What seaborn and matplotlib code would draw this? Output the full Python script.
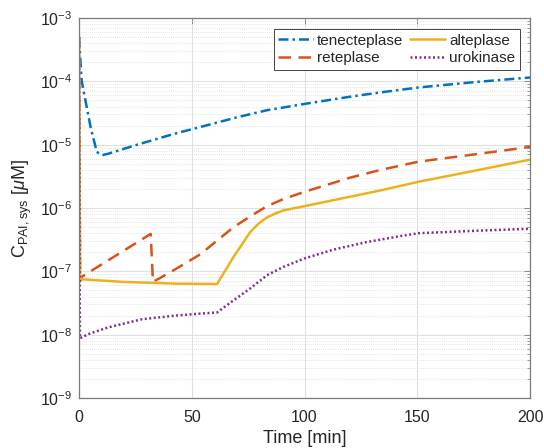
import numpy as np
import pandas as pd
import matplotlib
matplotlib.use("Agg")
import matplotlib.pyplot as plt
import seaborn as sns
from matplotlib.ticker import LogLocator, NullFormatter, MultipleLocator

# ---- data ----
t_tenecteplase = [0, 1.2, 3, 5.2, 7.9, 9.5, 10.8, 13, 25, 42.7, 53.8, 70, 83.4, 100, 120, 133.8,
                  150.7, 175, 200]
c_tenecteplase = [5e-4, 1.0e-4, 4.7e-5, 1.85e-5, 7.7e-6, 7.0e-6, 6.9e-6, 7.2e-6, 9.8e-6, 1.5e-5,
                  1.9e-5, 2.7e-5, 3.5e-5, 4.4e-5, 5.7e-5, 6.7e-5, 8.0e-5, 9.7e-5, 1.15e-4]

t_reteplase = [0, 0.5, 1.2, 31.8, 32.8, 41.2, 53.8, 68.6, 76, 83.4, 91, 100, 120, 133.8, 150.7,
               175, 200]
c_reteplase = [5e-4, 7e-8, 8.2e-8, 3.9e-7, 6.8e-8, 1.0e-7, 1.86e-7, 5.0e-7, 7.4e-7, 1.07e-6,
               1.4e-6, 1.8e-6, 3.0e-6, 4.0e-6, 5.4e-6, 7.0e-6, 9.2e-6]

t_alteplase = [0, 0.5, 1, 20, 42.7, 61.2, 68.6, 76, 79.7, 83.4, 87.1, 90.8, 100, 120, 133.8,
               150.7, 175, 200]
c_alteplase = [5e-4, 8e-8, 7.5e-8, 6.8e-8, 6.4e-8, 6.3e-8, 1.7e-7, 4.2e-7, 5.7e-7, 7.1e-7,
               8.2e-7, 9.2e-7, 1.07e-6, 1.5e-6, 1.9e-6, 2.6e-6, 3.85e-6, 5.8e-6]

t_urokinase = [0, 0.4, 5, 12.9, 27.8, 42.7, 53.8, 61.2, 68.6, 76, 83.4, 90.8, 100, 112.8, 127.6,
               142.5, 150.7, 178, 200]
c_urokinase = [5e-4, 8.8e-9, 1.05e-8, 1.3e-8, 1.75e-8, 2.0e-8, 2.15e-8, 2.24e-8, 3.5e-8, 5.4e-8,
               8.7e-8, 1.18e-7, 1.6e-7, 2.2e-7, 2.9e-7, 3.6e-7, 4.0e-7, 4.4e-7, 4.7e-7]

series = [
    ("tenecteplase", t_tenecteplase, c_tenecteplase, "#0072BD", (4, 1.6, 1, 1.6)),
    ("reteplase", t_reteplase, c_reteplase, "#D95319", (5, 3)),
    ("alteplase", t_alteplase, c_alteplase, "#EDB120", None),
    ("urokinase", t_urokinase, c_urokinase, "#7E2F8E", (0.8, 1.0)),
]

sns.set_style("white")
plt.rcParams["font.family"] = ["Liberation Sans", "DejaVu Sans"]
plt.rcParams["mathtext.fontset"] = "custom"
plt.rcParams["mathtext.rm"] = "Liberation Sans"
plt.rcParams["mathtext.it"] = "Liberation Sans:italic"

fig = plt.figure(figsize=(5.44, 4.48), dpi=100)
ax = fig.add_axes([79 / 544, 1 - 398 / 448, 451 / 544, 380 / 448])

for name, t, c, col, dash in series:
    df = pd.DataFrame({"t": t, "c": c})
    sns.lineplot(data=df, x="t", y="c", ax=ax, color=col, linewidth=1.8,
                 estimator=None, sort=False, label=name)
    line = ax.get_lines()[-1]
    if dash is not None:
        line.set_dashes(dash)

ax.set_yscale("log")
ax.set_xlim(0, 200)
ax.set_ylim(1e-9, 1e-3)
ax.xaxis.set_major_locator(MultipleLocator(50))
ax.yaxis.set_major_locator(LogLocator(base=10, numticks=20))
ax.yaxis.set_minor_locator(LogLocator(base=10, subs=np.arange(2, 10), numticks=20))
ax.yaxis.set_minor_formatter(NullFormatter())

ax.grid(True, which="major", color="#e0e0e0", linewidth=0.8, linestyle="-")
ax.grid(True, which="minor", axis="y", color="#dcdcdc", linewidth=0.6, linestyle=(0, (1, 1.5)))
ax.set_axisbelow(True)

for s in ax.spines.values():
    s.set_color("#7a7a7a")
    s.set_linewidth(0.9)
ax.tick_params(which="both", direction="in", top=True, right=True, colors="#7a7a7a",
               labelsize=11.5, labelcolor="#262626")
ax.tick_params(axis="x", which="major", pad=9)
ax.tick_params(axis="y", which="major", pad=5)
ax.tick_params(which="major", length=4, width=0.6)
ax.tick_params(which="minor", length=2, width=0.5)

ax.set_xlabel("Time [min]", fontsize=13, color="#262626")
ax.xaxis.set_label_coords(0.5, -0.083)
ax.set_ylabel(r"C$_{\mathrm{PAI,sys}}$ [$\mathit{\mu}$M]", fontsize=13, color="#262626", labelpad=4)

leg = ax.legend(loc="upper right", bbox_to_anchor=(1 - 10 / 451, 1 - 11 / 380), borderaxespad=0,
                ncol=2, fontsize=11, frameon=True, fancybox=False, framealpha=1,
                edgecolor="#262626", handlelength=2.3, columnspacing=0.45, handletextpad=0.25,
                labelspacing=0.25, borderpad=0.3)
leg.get_frame().set_linewidth(0.6)

fig.savefig("out.png", dpi=100)
